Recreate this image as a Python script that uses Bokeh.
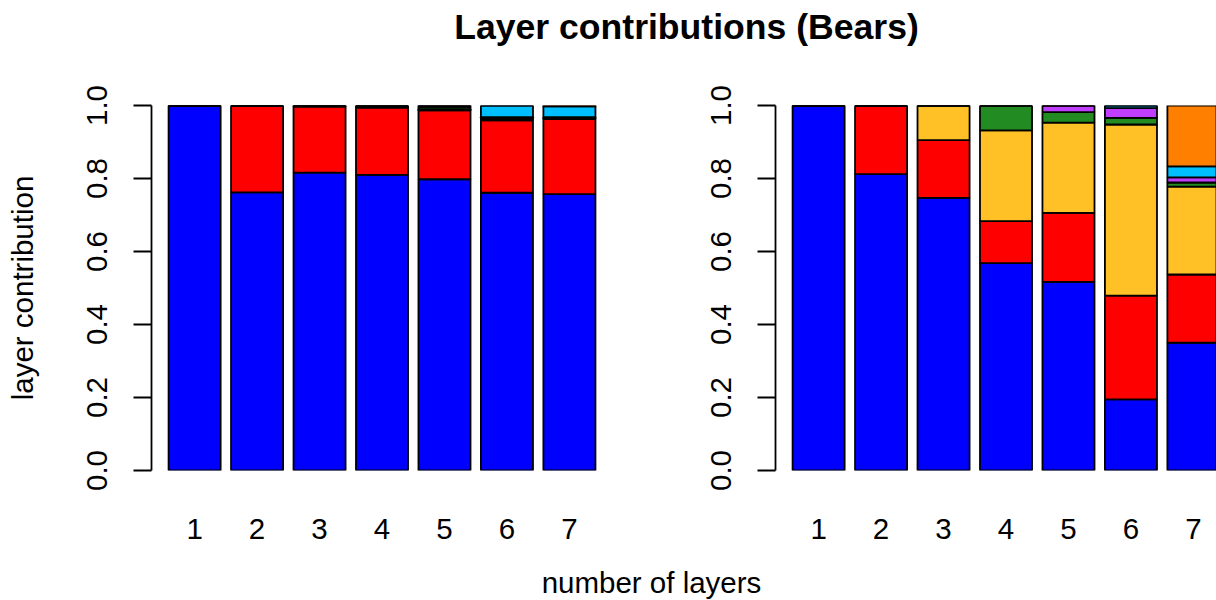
from bokeh.plotting import figure
from bokeh.models import ColumnDataSource, Range1d, FixedTicker, NumeralTickFormatter, Label
from bokeh.layouts import column, row
from bokeh.embed import file_html
from bokeh.resources import INLINE

# ---------------- data ----------------
n_layers = [1, 2, 3, 4, 5, 6, 7]
stack_names = ["layer1", "layer2", "layer3", "layer4", "layer5", "layer6", "layer7"]
y_ticks = [0.0, 0.2, 0.4, 0.6, 0.8, 1.0]

title_text = "Layer contributions (Bears)"
x_title = "number of layers"
y_title = "layer contribution"

# left panel (share of each layer, stacked)
left_layer1 = [1.000, 0.762, 0.816, 0.810, 0.798, 0.761, 0.757]
left_layer2 = [0.000, 0.238, 0.181, 0.184, 0.189, 0.198, 0.206]
left_layer3 = [0.000, 0.000, 0.003, 0.003, 0.003, 0.003, 0.002]
left_layer4 = [0.000, 0.000, 0.000, 0.003, 0.006, 0.003, 0.002]
left_layer5 = [0.000, 0.000, 0.000, 0.000, 0.004, 0.003, 0.001]
left_layer6 = [0.000, 0.000, 0.000, 0.000, 0.000, 0.032, 0.030]
left_layer7 = [0.000, 0.000, 0.000, 0.000, 0.000, 0.000, 0.002]

# right panel
right_layer1 = [1.000, 0.812, 0.747, 0.568, 0.517, 0.195, 0.350]
right_layer2 = [0.000, 0.188, 0.158, 0.115, 0.189, 0.284, 0.187]
right_layer3 = [0.000, 0.000, 0.095, 0.249, 0.247, 0.469, 0.241]
right_layer4 = [0.000, 0.000, 0.000, 0.068, 0.029, 0.018, 0.011]
right_layer5 = [0.000, 0.000, 0.000, 0.000, 0.018, 0.027, 0.014]
right_layer6 = [0.000, 0.000, 0.000, 0.000, 0.000, 0.007, 0.030]
right_layer7 = [0.000, 0.000, 0.000, 0.000, 0.000, 0.000, 0.167]

layer_colors = ["#0000FF", "#FF0000", "#FFC125", "#228B22", "#BF3EFF", "#00BFFF", "#FF7F00"]

FONT = "Liberation Sans"
FS = "29.5px"
LW = 1.8
BAR_W = 1 / 1.2
PX_PER_UNIT = 62.47


def panel(layers, width, border_left, border_right, with_ylabel):
    frame_w = width - border_left - border_right
    data = {"n": n_layers}
    for name, vals in zip(stack_names, layers):
        data[name] = vals
    src = ColumnDataSource(data)
    p = figure(width=width, height=508, output_backend="svg", toolbar_location=None,
               x_range=Range1d(0.31, 0.31 + frame_w / PX_PER_UNIT), y_range=Range1d(0, 1),
               min_border_left=border_left, min_border_right=border_right,
               min_border_top=53, min_border_bottom=90,
               outline_line_color=None, background_fill_color="white")
    p.vbar_stack(stack_names, x="n", width=BAR_W, source=src,
                 fill_color=layer_colors, line_color="black", line_width=LW)
    p.grid.visible = False

    xa = p.xaxis[0]
    xa.ticker = FixedTicker(ticks=n_layers)
    xa.axis_line_color = None
    xa.major_tick_line_color = None
    xa.minor_tick_line_color = None
    xa.major_tick_out = 0
    xa.major_tick_in = 0
    xa.major_label_standoff = 48
    xa.major_label_text_font = FONT
    xa.major_label_text_font_size = FS
    xa.major_label_text_color = "black"

    ya = p.yaxis[0]
    ya.ticker = FixedTicker(ticks=y_ticks)
    ya.formatter = NumeralTickFormatter(format="0.0")
    ya.minor_tick_line_color = None
    ya.major_tick_out = 18
    ya.major_tick_in = 0
    ya.axis_line_width = LW
    ya.major_tick_line_width = LW
    ya.axis_line_color = "black"
    ya.major_tick_line_color = "black"
    ya.major_label_orientation = "vertical"
    ya.major_label_standoff = 27
    ya.major_label_text_font = FONT
    ya.major_label_text_font_size = FS
    ya.major_label_text_color = "black"
    if with_ylabel:
        ya.axis_label = y_title
        ya.axis_label_text_font = FONT
        ya.axis_label_text_font_size = FS
        ya.axis_label_text_font_style = "normal"
        ya.axis_label_text_color = "black"
        ya.axis_label_standoff = 45
    return p


p1 = panel([left_layer1, left_layer2, left_layer3, left_layer4, left_layer5, left_layer6, left_layer7],
           700, 151, 88, True)
p2 = panel([right_layer1, right_layer2, right_layer3, right_layer4, right_layer5, right_layer6, right_layer7],
           516, 75, 0, False)


def text_strip(h, txt, x, y, size, style):
    f = figure(width=1216, height=h, output_backend="svg", toolbar_location=None,
               x_range=Range1d(0, 1216), y_range=Range1d(0, h),
               x_axis_type=None, y_axis_type=None, min_border=0,
               outline_line_color=None, background_fill_color="white")
    f.grid.visible = False
    f.add_layout(Label(x=x, y=y, text=txt, text_align="center", text_baseline="alphabetic",
                       text_font=FONT, text_font_size=size, text_font_style=style,
                       text_color="black"))
    return f


top = text_strip(52, title_text, 686, 26, "35.6px", "bold")
bottom = text_strip(40, x_title, 651, 18, FS, "normal")

layout = column(top, row(p1, p2), bottom)

with open("out.html", "w") as fh:
    fh.write(file_html(layout, INLINE))
